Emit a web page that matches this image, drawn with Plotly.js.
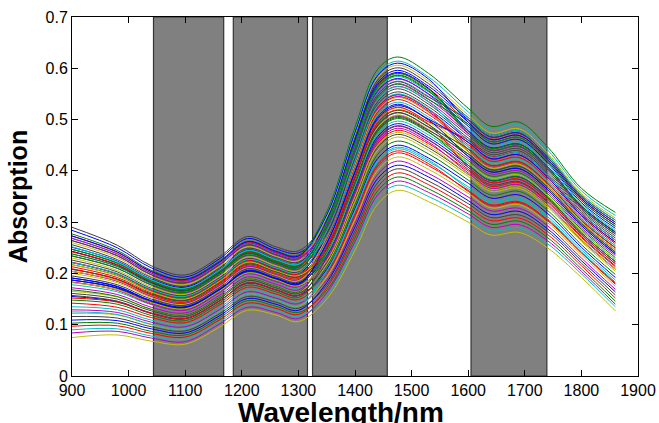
<!DOCTYPE html>
<html>
<head>
<meta charset="utf-8">
<script src="https://cdn.plot.ly/plotly-3.0.1.min.js"></script>
<style>html,body{margin:0;padding:0;background:#fff;}#chart{width:659px;height:423px;}</style>
</head>
<body>
<div id="chart"></div>
<script>
// Wavelength sample points (nm)
const wavelength = [900, 980, 1040, 1100, 1160, 1210, 1260, 1300, 1350, 1400, 1440, 1475, 1530, 1600, 1640, 1690, 1740, 1800, 1860];

// Shaded (selected) wavelength bands, nm
const bandStart = [1044, 1185, 1325, 1605];
const bandEnd   = [1168, 1316, 1457, 1739];

// Axis titles
const xTitle = 'Wavelength/nm';
const yTitle = 'Absorption';

// Absorption spectra
const s01 = [.290,.255,.215,.197,.232,.272,.252,.244,.306,.466,.577,.601,.570,.504,.470,.478,.431,.352,.304];
const s02 = [.284,.250,.211,.193,.228,.268,.248,.240,.293,.447,.556,.580,.550,.487,.453,.461,.416,.338,.288];
const s03 = [.277,.245,.206,.189,.224,.263,.244,.236,.320,.485,.598,.622,.590,.522,.487,.495,.447,.366,.319];
const s04 = [.273,.241,.203,.186,.221,.261,.241,.233,.300,.456,.566,.591,.560,.495,.462,.469,.423,.345,.296];
const s05 = [.269,.238,.200,.184,.218,.258,.239,.230,.315,.478,.590,.614,.583,.515,.481,.489,.441,.361,.313];
const s06 = [.264,.234,.197,.181,.216,.255,.236,.227,.286,.437,.545,.570,.540,.478,.445,.452,.408,.331,.281];
const s07 = [.260,.231,.194,.178,.213,.252,.233,.225,.310,.471,.582,.606,.575,.509,.474,.482,.435,.356,.308];
const s08 = [.256,.227,.192,.175,.210,.249,.231,.222,.279,.427,.535,.560,.530,.469,.436,.443,.400,.324,.273];
const s09 = [.251,.224,.189,.173,.207,.246,.228,.219,.303,.461,.572,.596,.565,.500,.466,.474,.427,.349,.300];
const s10 = [.247,.220,.186,.170,.205,.243,.225,.216,.296,.451,.561,.586,.555,.491,.457,.465,.419,.342,.292];
const s11 = [.243,.217,.183,.167,.202,.240,.223,.214,.269,.413,.519,.544,.515,.455,.423,.431,.388,.314,.261];
const s12 = [.238,.213,.180,.165,.199,.237,.220,.211,.289,.442,.551,.575,.545,.482,.449,.456,.412,.335,.284];
const s13 = [.234,.210,.177,.162,.196,.235,.217,.208,.283,.432,.540,.565,.535,.473,.440,.448,.404,.328,.277];
const s14 = [.230,.206,.174,.159,.194,.232,.215,.205,.259,.399,.503,.528,.500,.442,.411,.418,.376,.303,.250];
const s15 = [.226,.203,.171,.157,.191,.229,.212,.203,.276,.423,.530,.554,.525,.464,.432,.439,.396,.321,.269];
const s16 = [.221,.199,.168,.154,.188,.226,.209,.200,.272,.418,.524,.549,.520,.460,.428,.435,.392,.317,.265];
const s17 = [.217,.196,.165,.151,.185,.223,.207,.197,.252,.389,.493,.518,.490,.433,.402,.409,.368,.296,.242];
const s18 = [.213,.192,.162,.148,.183,.220,.204,.194,.266,.408,.514,.539,.510,.451,.419,.426,.384,.310,.258];
const s19 = [.208,.189,.159,.146,.180,.217,.202,.192,.262,.403,.509,.534,.505,.447,.415,.422,.380,.307,.254];
const s20 = [.204,.185,.156,.143,.177,.214,.199,.189,.245,.379,.482,.508,.480,.424,.394,.400,.360,.289,.235];
const s21 = [.200,.182,.153,.140,.175,.212,.196,.186,.255,.394,.498,.523,.495,.438,.406,.413,.372,.300,.246];
const s22 = [.195,.178,.150,.138,.172,.209,.194,.183,.249,.384,.488,.513,.485,.429,.398,.405,.364,.293,.238];
const s23 = [.191,.175,.147,.135,.169,.206,.191,.181,.235,.365,.467,.492,.465,.411,.381,.388,.349,.279,.223];
const s24 = [.187,.171,.144,.132,.166,.203,.188,.178,.242,.375,.477,.502,.475,.420,.390,.396,.356,.286,.231];
const s25 = [.183,.168,.142,.130,.164,.200,.186,.175,.227,.353,.453,.479,.453,.400,.370,.377,.339,.270,.213];
const s26 = [.178,.164,.139,.127,.161,.197,.183,.172,.238,.370,.472,.497,.470,.415,.385,.392,.352,.283,.227];
const s27 = [.172,.159,.134,.123,.157,.193,.179,.168,.232,.360,.461,.487,.460,.407,.377,.383,.345,.276,.219];
const s28 = [.165,.154,.130,.119,.153,.189,.175,.164,.218,.341,.440,.466,.440,.389,.360,.366,.329,.262,.204];
const s29 = [.161,.150,.127,.116,.150,.186,.172,.161,.221,.346,.446,.471,.445,.393,.364,.370,.333,.265,.208];
const s30 = [.155,.145,.122,.112,.146,.181,.168,.157,.208,.327,.424,.450,.425,.376,.347,.353,.317,.251,.192];
const s31 = [.148,.140,.118,.108,.142,.177,.164,.153,.213,.334,.432,.458,.433,.382,.353,.360,.323,.256,.198];
const s32 = [.142,.134,.114,.104,.138,.173,.160,.149,.198,.312,.409,.435,.410,.362,.334,.340,.305,.241,.181];
const s33 = [.135,.129,.109,.100,.133,.168,.156,.145,.203,.319,.417,.443,.418,.369,.341,.347,.311,.246,.187];
const s34 = [.129,.124,.105,.096,.129,.164,.152,.141,.187,.298,.393,.419,.395,.349,.322,.327,.293,.230,.169];
const s35 = [.122,.119,.100,.092,.125,.160,.148,.136,.193,.305,.401,.427,.403,.356,.328,.334,.299,.236,.175];
const s36 = [.116,.113,.096,.088,.121,.155,.144,.132,.177,.283,.377,.404,.380,.336,.309,.314,.282,.220,.158];
const s37 = [.109,.108,.092,.084,.117,.151,.140,.128,.182,.291,.385,.411,.388,.342,.315,.321,.287,.225,.164];
const s38 = [.103,.103,.087,.080,.113,.147,.136,.124,.167,.269,.361,.388,.365,.322,.296,.302,.270,.209,.146];
const s39 = [.097,.098,.083,.076,.109,.142,.132,.120,.172,.276,.369,.396,.373,.329,.303,.308,.276,.215,.152];
const s40 = [.090,.092,.078,.072,.105,.138,.128,.116,.157,.255,.346,.372,.350,.309,.283,.289,.258,.199,.135];
const s41 = [.084,.087,.074,.067,.101,.134,.124,.112,.162,.262,.353,.380,.358,.316,.290,.295,.264,.204,.140];
const s42 = [.075,.080,.068,.062,.095,.128,.119,.106,.150,.245,.335,.362,.340,.300,.275,.280,.250,.192,.127];
const s43 = [.264,.235,.198,.182,.217,.256,.237,.229,.290,.441,.549,.574,.544,.499,.466,.473,.427,.349,.300];
const s44 = [.243,.216,.182,.166,.201,.239,.221,.212,.299,.457,.568,.592,.561,.478,.445,.452,.408,.331,.280];
const s45 = [.238,.214,.181,.166,.200,.239,.221,.212,.300,.455,.565,.590,.559,.477,.444,.452,.408,.332,.281];
const s46 = [.222,.199,.167,.153,.187,.225,.208,.199,.255,.395,.499,.524,.496,.460,.428,.435,.392,.317,.265];
const s47 = [.221,.200,.169,.155,.189,.227,.211,.201,.283,.431,.539,.564,.534,.459,.427,.435,.392,.318,.265];
const s48 = [.204,.185,.155,.142,.176,.213,.198,.188,.268,.414,.520,.545,.516,.438,.407,.414,.372,.299,.246];
const s49 = [.204,.186,.157,.144,.179,.216,.200,.190,.270,.412,.518,.543,.514,.437,.406,.413,.372,.300,.246];
const s50 = [.187,.171,.143,.131,.165,.202,.187,.177,.248,.385,.489,.514,.486,.443,.411,.418,.376,.303,.250];
const s51 = [.187,.172,.146,.134,.168,.204,.190,.179,.259,.398,.502,.527,.499,.428,.398,.404,.364,.293,.239];
const s52 = [.168,.155,.130,.119,.153,.189,.175,.164,.241,.375,.478,.504,.476,.411,.381,.388,.348,.279,.223];
const s53 = [.242,.217,.184,.169,.203,.241,.224,.215,.273,.417,.523,.548,.519,.442,.410,.417,.376,.304,.250];
const s54 = [.252,.223,.188,.171,.206,.245,.227,.218,.272,.419,.526,.550,.521,.447,.415,.422,.380,.306,.254];
const s55 = [.268,.238,.201,.185,.220,.259,.240,.231,.293,.446,.555,.579,.549,.473,.440,.447,.404,.328,.277];
const s56 = [.217,.195,.164,.150,.184,.222,.205,.196,.245,.380,.484,.509,.481,.416,.386,.392,.352,.282,.227];
const s57 = [.208,.189,.160,.147,.181,.218,.203,.193,.246,.379,.481,.506,.479,.433,.402,.409,.368,.297,.242];
const s58 = [.191,.174,.146,.134,.168,.205,.190,.179,.258,.399,.505,.530,.501,.456,.424,.431,.388,.313,.261];
const s59 = [.234,.210,.178,.163,.198,.236,.219,.209,.287,.436,.544,.569,.539,.491,.457,.465,.420,.342,.292];
const s60 = [.209,.188,.158,.144,.179,.216,.200,.190,.251,.390,.494,.519,.491,.407,.377,.384,.345,.275,.219];
const s61 = [.247,.221,.187,.171,.206,.244,.227,.218,.297,.451,.560,.584,.554,.504,.470,.478,.431,.353,.304];
const s62 = [.183,.167,.140,.128,.162,.199,.184,.174,.228,.356,.457,.483,.456,.396,.366,.373,.335,.266,.209];
const s63 = [.182,.168,.143,.131,.165,.201,.187,.176,.225,.350,.450,.475,.449,.393,.364,.370,.333,.266,.208];
const s64 = [.157,.146,.123,.112,.146,.182,.168,.157,.231,.361,.463,.488,.461,.403,.373,.379,.341,.272,.215];
const s65 = [.273,.242,.204,.188,.222,.262,.243,.234,.314,.475,.586,.610,.579,.495,.461,.469,.423,.346,.296];
const s66 = [.247,.220,.185,.169,.203,.242,.224,.215,.296,.452,.562,.587,.556,.474,.441,.448,.404,.327,.277];
const s67 = [.152,.144,.122,.112,.146,.181,.168,.157,.202,.316,.413,.439,.414,.360,.332,.338,.303,.240,.179];
const s68 = [.125,.120,.101,.092,.125,.160,.148,.137,.204,.323,.420,.446,.421,.365,.337,.343,.307,.242,.183];

const spectra = [s01,s02,s03,s04,s05,s06,s07,s08,s09,s10,s11,s12,s13,s14,s15,s16,s17,s18,s19,s20,s21,
                 s22,s23,s24,s25,s26,s27,s28,s29,s30,s31,s32,s33,s34,s35,s36,s37,s38,s39,s40,s41,s42,
                 s43,s44,s45,s46,s47,s48,s49,s50,s51,s52,s53,s54,s55,s56,s57,s58,s59,s60,s61,s62,s63,
                 s64,s65,s66,s67,s68];

// MATLAB classic line colour order
const lineColors = ['#0000FF','#008000','#FF0000','#00BFBF','#BF00BF','#BFBF00','#404040'];

const traces = spectra.map((s, i) => ({
  type: 'scatter', mode: 'lines',
  x: wavelength, y: s,
  line: {color: lineColors[(i + 6) % 7], width: 1, shape: 'spline', smoothing: 1},
  showlegend: false, hoverinfo: 'skip'
}));

const shapes = bandStart.map((b, i) => ({
  type: 'rect', xref: 'x', yref: 'paper', x0: b, x1: bandEnd[i], y0: 0, y1: 1,
  fillcolor: '#808080', line: {color: '#333333', width: 1.2}, layer: 'below'
}));

const fontFam = 'Arial, "Liberation Sans", sans-serif';
const layout = {
  width: 659, height: 423,
  margin: {l: 72, r: 21, t: 17, b: 47},
  paper_bgcolor: '#ffffff', plot_bgcolor: '#ffffff',
  font: {family: fontFam, color: '#000', size: 16},
  shapes: shapes,
  annotations: [{
    text: '<b>' + xTitle + '</b>', xref: 'paper', yref: 'paper', x: 0.476, y: 0,
    xanchor: 'center', yanchor: 'top', yshift: -19, showarrow: false,
    font: {family: fontFam, size: 28, color: '#000'}
  }],
  xaxis: {
    range: [900, 1900], tickmode: 'linear', tick0: 900, dtick: 100,
    ticks: 'inside', ticklen: 6, tickcolor: '#000', mirror: 'ticks',
    showline: true, linecolor: '#000', linewidth: 1, showgrid: false, zeroline: false,
    tickfont: {family: fontFam, size: 16, color: '#000'},
    automargin: false
  },
  yaxis: {
    range: [0, 0.7], tickmode: 'linear', tick0: 0, dtick: 0.1,
    ticks: 'inside', ticklen: 6, tickcolor: '#000', mirror: 'ticks',
    showline: true, linecolor: '#000', linewidth: 1, showgrid: false, zeroline: false,
    tickfont: {family: fontFam, size: 16, color: '#000'},
    title: {text: '<b>' + yTitle + '</b>', font: {family: fontFam, size: 25, color: '#000'}, standoff: 10},
    automargin: false
  }
};

Plotly.newPlot('chart', traces, layout, {displayModeBar: false, staticPlot: true});
</script>
</body>
</html>
